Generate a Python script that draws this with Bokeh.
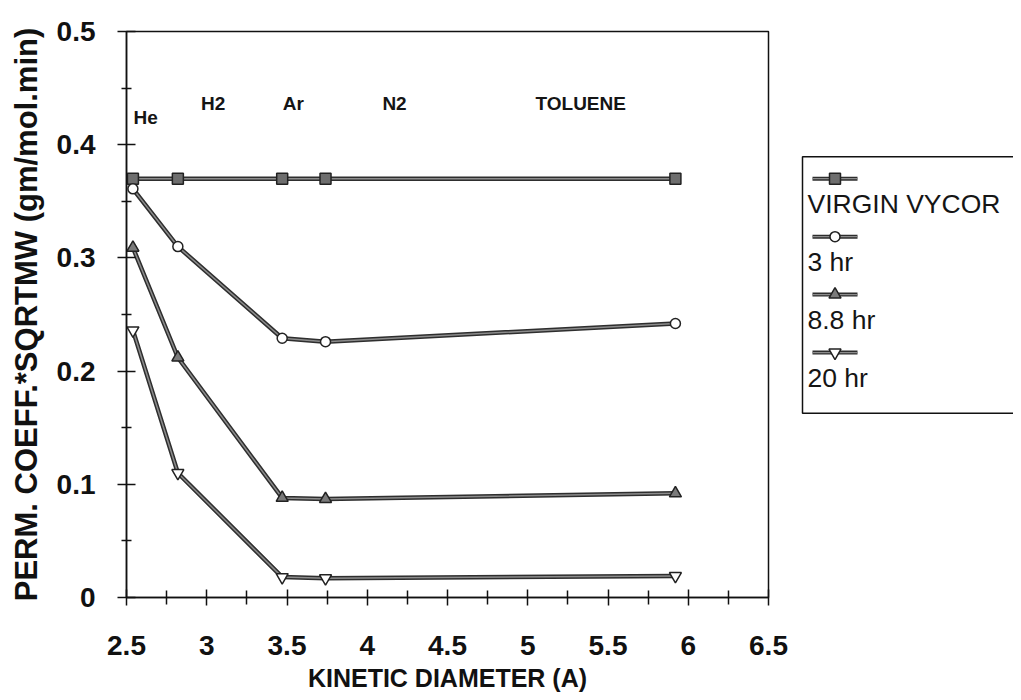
from bokeh.plotting import figure
from bokeh.models import Range1d, FixedTicker
from bokeh.layouts import row
from bokeh.embed import file_html
from bokeh.resources import INLINE
from bokeh.core.properties import value

# ---------------- data ----------------
gases = ["He", "H2", "Ar", "N2", "TOLUENE"]
kinetic_diameter = [2.54, 2.82, 3.47, 3.74, 5.92]
virgin_vycor = [0.370, 0.370, 0.370, 0.370, 0.370]
hr_3 = [0.361, 0.310, 0.229, 0.226, 0.242]
hr_8_8 = [0.309, 0.212, 0.088, 0.087, 0.092]
hr_20 = [0.236, 0.110, 0.018, 0.017, 0.019]
series_names = ["VIRGIN VYCOR", "3 hr", "8.8 hr", "20 hr"]
gas_label_x = [2.62, 3.04, 3.54, 4.17, 5.33]
gas_label_y = [0.424, 0.436, 0.436, 0.436, 0.436]
x_ticks = [2.5, 3.0, 3.5, 4.0, 4.5, 5.0, 5.5, 6.0, 6.5]
x_tick_labels = ["2.5", "3", "3.5", "4", "4.5", "5", "5.5", "6", "6.5"]
x_minor = [2.75, 3.25, 3.75, 4.25, 4.75, 5.25, 5.75, 6.25]
y_ticks = [0.0, 0.1, 0.2, 0.3, 0.4, 0.5]
y_tick_labels = ["0", "0.1", "0.2", "0.3", "0.4", "0.5"]
y_minor = [0.05, 0.15, 0.25, 0.35, 0.45]

series_values = [virgin_vycor, hr_3, hr_8_8, hr_20]
marker_styles = [
    dict(marker="square", size=11, fill_color="#6e6e6e"),
    dict(marker="circle", size=10, fill_color="white"),
    dict(marker="triangle", size=12, fill_color="#7a7a7a"),
    dict(marker="inverted_triangle", size=12, fill_color="white"),
]

FONT = "Liberation Sans"
H = 700

# ---------------- main plot ----------------
p = figure(width=798, height=H, x_range=Range1d(2.5, 6.5), y_range=Range1d(0, 0.5),
           toolbar_location=None, output_backend="svg",
           min_border_left=126, min_border_right=30, min_border_top=31, min_border_bottom=103)
p.grid.visible = False
p.background_fill_color = "white"
p.border_fill_color = "white"
p.outline_line_color = "#111111"
p.outline_line_width = 1.5

p.xaxis.ticker = FixedTicker(ticks=x_ticks, minor_ticks=x_minor)
p.xaxis.major_label_overrides = {t: l for t, l in zip(x_ticks, x_tick_labels)}
p.yaxis.ticker = FixedTicker(ticks=y_ticks, minor_ticks=y_minor)
p.yaxis.major_label_overrides = {t: l for t, l in zip(y_ticks, y_tick_labels)}

for ax in (p.xaxis, p.yaxis):
    ax.axis_line_color = "#111111"
    ax.axis_line_width = 1.5
    ax.major_tick_line_color = "#111111"
    ax.minor_tick_line_color = "#111111"
    ax.major_tick_line_width = 1.5
    ax.minor_tick_line_width = 1.5
    ax.major_label_text_font = FONT
    ax.major_label_text_font_style = "bold"
    ax.major_label_text_font_size = "28px"
    ax.major_label_text_color = "#111111"
    ax.axis_label_text_font = FONT
    ax.axis_label_text_font_style = "bold"
    ax.axis_label_text_color = "#111111"

p.xaxis.major_tick_in = 8
p.xaxis.major_tick_out = 8
p.xaxis.minor_tick_in = 7
p.xaxis.minor_tick_out = 7
p.yaxis.major_tick_in = 9
p.yaxis.major_tick_out = 9
p.yaxis.minor_tick_in = 5
p.yaxis.minor_tick_out = 5
p.xaxis.major_label_standoff = 30
p.yaxis.major_label_standoff = 22

p.xaxis.axis_label = "KINETIC DIAMETER (A)"
p.xaxis.axis_label_text_font_size = "25px"
p.xaxis.axis_label_standoff = 6
p.yaxis.axis_label = "PERM. COEFF.*SQRTMW (gm/mol.min)"
p.yaxis.axis_label_text_font_size = "31px"
p.yaxis.axis_label_standoff = 10

for vals, st in zip(series_values, marker_styles):
    p.line(kinetic_diameter, vals, line_color="#2e2e2e", line_width=4.5)
    p.line(kinetic_diameter, vals, line_color="#8c8c8c", line_width=1.5)
    p.scatter(kinetic_diameter, vals, line_color="#222222", line_width=1.5, **st)

p.text(x=gas_label_x, y=gas_label_y, text=gases, text_font=value(FONT),
       text_font_style="bold", text_font_size="19px", text_color="#151515",
       text_align="center", text_baseline="middle")

# ---------------- legend panel ----------------
lg = figure(width=215, height=H, x_range=Range1d(0, 215), y_range=Range1d(H, 0),
            toolbar_location=None, output_backend="svg",
            x_axis_location=None, y_axis_location=None,
            min_border=0, min_border_left=0, min_border_right=0,
            min_border_top=0, min_border_bottom=0)
lg.grid.visible = False
lg.outline_line_color = None
lg.background_fill_color = "white"
lg.border_fill_color = "white"

lg.quad(left=[4], right=[400], top=[155], bottom=[472], fill_color=None,
        line_color="#111111", line_width=1.5)

row_y0 = 182
row_step = 71.7
for i, (name, st) in enumerate(zip(series_names, marker_styles)):
    my = row_y0 + i * row_step
    lg.line([14, 59], [my, my], line_color="#2e2e2e", line_width=4)
    lg.line([14, 59], [my, my], line_color="#8c8c8c", line_width=1.2)
    lg.scatter([36.5], [my], line_color="#222222", line_width=1.5, **st)
    lg.text(x=[9], y=[my + 31], text=[name], text_font=value(FONT),
            text_font_size="26.5px", text_color="#151515",
            text_align="left", text_baseline="middle")

layout = row(p, lg)
open("out.html", "w").write(file_html(layout, INLINE))
